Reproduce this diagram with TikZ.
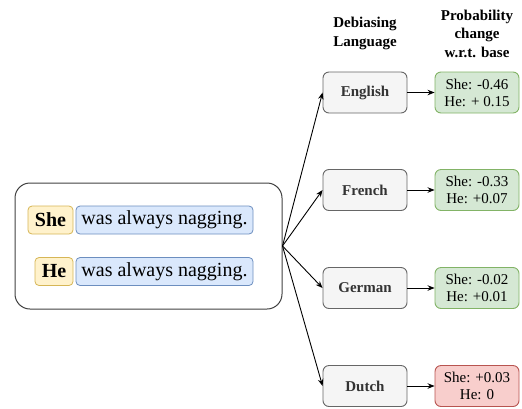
\documentclass[tikz,border=0pt]{standalone}
\usepackage{fontspec}
\setmainfont{Liberation Serif}
\usetikzlibrary{arrows.meta}
\definecolor{ylwfill}{HTML}{FFF2CC}
\definecolor{ylwdraw}{HTML}{D6B656}
\definecolor{bluefill}{HTML}{DAE8FC}
\definecolor{bluedraw}{HTML}{6C8EBF}
\definecolor{grayfill}{HTML}{F5F5F5}
\definecolor{graydraw}{HTML}{666666}
\definecolor{graytext}{HTML}{333333}
\definecolor{grnfill}{HTML}{D5E8D4}
\definecolor{grndraw}{HTML}{82B366}
\definecolor{redfill}{HTML}{F8CECC}
\definecolor{reddraw}{HTML}{B85450}
\tikzset{
  pron/.style={draw=ylwdraw, fill=ylwfill, rounded corners=4pt, line width=0.8pt, inner sep=0pt, minimum height=28pt, font=\fontsize{20}{24}\selectfont\bfseries},
  sent/.style={draw=bluedraw, fill=bluefill, rounded corners=4pt, line width=0.8pt, inner sep=0pt, minimum width=177pt, minimum height=28pt, font=\fontsize{20}{24}\selectfont},
  lang/.style={draw=graydraw, fill=grayfill, rounded corners=6pt, line width=0.9pt, inner sep=0pt, minimum width=84pt, minimum height=41pt, text=graytext, font=\fontsize{15}{18}\selectfont\bfseries},
  res/.style={rounded corners=6pt, line width=0.9pt, inner sep=0pt, minimum width=84pt, minimum height=41pt, align=center, font=\fontsize{15}{17}\selectfont},
  good/.style={res, draw=grndraw, fill=grnfill},
  bad/.style={res, draw=reddraw, fill=redfill},
  hdr/.style={align=center, font=\fontsize{15}{18.5}\selectfont\bfseries},
  conn/.style={line width=0.9pt, -{Stealth[length=7pt,width=5.5pt]}},
}
\begin{document}
\begin{tikzpicture}[x=1pt,y=-1pt]
\useasboundingbox (0,0) rectangle (522,408);
\node[draw=black!75, line width=1pt, rounded corners=15pt, minimum width=267pt, minimum height=126pt, inner sep=0pt] (box) at (148.5,246) {};
\node[pron, minimum width=45pt] (she) at (50.5,220) {She};
\node[sent] (s1) at (164.5,220) {was always nagging.};
\node[pron, minimum width=38pt] (he) at (54,271.5) {He};
\node[sent] (s2) at (164.5,271.5) {was always nagging.};

\node[hdr] (h1) at (365,33.5) {Debiasing\\Language};
\node[hdr] (h2) at (477,33.5) {Probability\\change\\w.r.t. base};

\node[lang] (en) at (365,92.5) {English};
\node[lang] (fr) at (365,190) {French};
\node[lang] (de) at (365,288) {German};
\node[lang] (nl) at (365,386) {Dutch};

\node[good] (ren) at (477,92.5) {She: -0.46\\He: + 0.15};
\node[good] (rfr) at (477,190) {She: -0.33\\He: +0.07};
\node[good] (rde) at (477,288) {She: -0.02\\He: +0.01};
\node[bad] (rnl) at (477,386) {She: +0.03\\He: 0};

\foreach \l in {en,fr,de,nl} \draw[conn] (box.east) -- (\l.west);
\draw[conn] (en) -- (ren);
\draw[conn] (fr) -- (rfr);
\draw[conn] (de) -- (rde);
\draw[conn] (nl) -- (rnl);
\end{tikzpicture}
\end{document}
